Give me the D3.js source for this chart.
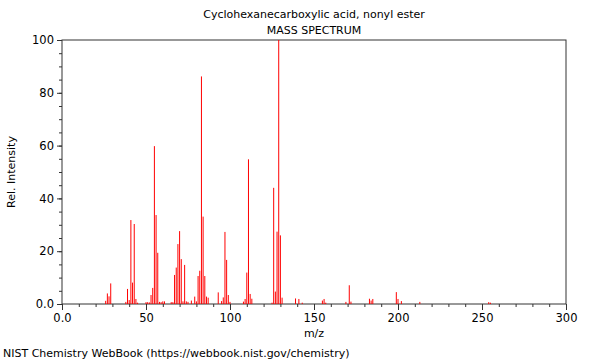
<!DOCTYPE html>
<html>
<head>
<meta charset="utf-8">
<script src="https://cdn.jsdelivr.net/npm/d3@7"></script>
<style>
  body { margin: 0; background: #fff; }
  svg text { font-family: "DejaVu Sans", sans-serif; fill: #000; }
</style>
</head>
<body>
<script>
// m/z and relative intensity
const mz = [26, 27, 28, 29, 38, 39, 40, 41, 42, 43, 44, 45, 50, 51, 52,
  53, 54, 55, 56, 57, 58, 59, 60, 61, 65, 66, 67, 68, 69, 70, 71, 72, 73, 74, 75,
  77, 79, 80, 81, 82, 83, 84, 85, 86, 87, 93, 95, 96, 97, 98, 99, 100,
  108, 109, 110, 111, 112, 113, 125, 126, 127, 128, 129, 130, 131,
  139, 141, 143, 155, 156, 157, 169, 171, 172, 183, 184, 185,
  199, 200, 202, 213, 254, 255];
const intensity = [1.2, 4.0, 2.9, 7.8, 0.8, 5.7, 1.5, 31.8, 8.1, 30.3, 1.9, 0.5, 0.7, 0.7, 0.6,
  3.4, 6.1, 59.8, 33.7, 19.4, 0.8, 0.7, 1.0, 1.0, 0.7, 0.7, 11.0, 13.8, 22.7, 27.6, 17.0, 1.0, 14.8, 1.0, 0.8,
  1.3, 2.8, 1.0, 10.6, 12.6, 86.2, 33.1, 10.6, 2.8, 2.4, 4.4, 1.1, 2.5, 27.3, 16.7, 3.4, 0.8,
  0.9, 1.9, 11.9, 54.8, 3.8, 2.0, 0.5, 44.0, 4.7, 27.4, 100, 26.0, 2.4,
  2.1, 1.9, 0.5, 1.3, 1.9, 0.5, 0.8, 7.1, 0.9, 2.0, 1.3, 1.9,
  4.5, 1.9, 1.1, 0.8, 0.7, 0.5];

const xTicks = [0, 50, 100, 150, 200, 250, 300];
const yTicks = [0, 20, 40, 60, 80, 100];

const title = "Cyclohexanecarboxylic acid, nonyl ester";
const subtitle = "MASS SPECTRUM";
const credit = "NIST Chemistry WebBook (https://webbook.nist.gov/chemistry)";

const W = 600, H = 360;
const plot = { left: 62, right: 566, top: 40, bottom: 304 };

const svg = d3.select("body").append("svg")
    .attr("width", W)
    .attr("height", H);

const x = d3.scaleLinear().domain([0, 300]).range([plot.left, plot.right]);
const y = d3.scaleLinear().domain([0, 100]).range([plot.bottom, plot.top]);

const axisColor = "#333";
const fmt = d => d === 0 ? "0.0" : d;

// minor ticks
const xAxisMinor = d3.axisBottom(x).tickValues(d3.range(0, 301, 10))
    .tickSize(3).tickFormat("");
const yAxisMinor = d3.axisLeft(y).tickValues(d3.range(0, 101, 5))
    .tickSize(3).tickFormat("");

svg.append("g").attr("transform", `translate(0,${plot.bottom})`).call(xAxisMinor);
svg.append("g").attr("transform", `translate(${plot.left},0)`).call(yAxisMinor);

// major ticks
const xAxis = d3.axisBottom(x).tickValues(xTicks).tickSize(6).tickPadding(4).tickFormat(fmt);
const yAxis = d3.axisLeft(y).tickValues(yTicks).tickSize(5).tickPadding(3).tickFormat(fmt);

svg.append("g").attr("class", "xaxis")
    .attr("transform", `translate(0,${plot.bottom})`).call(xAxis);
svg.append("g").attr("class", "yaxis")
    .attr("transform", `translate(${plot.left},0)`).call(yAxis);

svg.selectAll(".domain").remove();
svg.selectAll(".tick line").attr("stroke", axisColor);
svg.selectAll(".tick text").attr("font-size", 11.5).attr("fill", "#000")
    .style("font-family", "DejaVu Sans, sans-serif");

// frame
svg.append("rect")
    .attr("x", plot.left)
    .attr("y", plot.top)
    .attr("width", plot.right - plot.left)
    .attr("height", plot.bottom - plot.top)
    .attr("fill", "none")
    .attr("stroke", axisColor)
    .attr("stroke-width", 1);

// spectrum lines
svg.append("g").selectAll("line")
  .data(mz.map((m, i) => ({ m, v: intensity[i] })))
  .enter()
  .append("line")
    .attr("x1", d => x(d.m))
    .attr("x2", d => x(d.m))
    .attr("y1", y(0))
    .attr("y2", d => y(d.v))
    .attr("stroke", "#ff0000")
    .attr("stroke-width", 1);

// texts
svg.append("text")
    .attr("x", 314).attr("y", 18)
    .attr("text-anchor", "middle")
    .attr("font-size", 11)
    .text(title);

svg.append("text")
    .attr("x", 314).attr("y", 34)
    .attr("text-anchor", "middle")
    .attr("font-size", 11)
    .text(subtitle);

svg.append("text")
    .attr("x", 314).attr("y", 337)
    .attr("text-anchor", "middle")
    .attr("font-size", 11)
    .text("m/z");

svg.append("text")
    .attr("transform", `translate(15,${(plot.top + plot.bottom) / 2}) rotate(-90)`)
    .attr("text-anchor", "middle")
    .attr("font-size", 11)
    .text("Rel. Intensity");

svg.append("text")
    .attr("x", 3).attr("y", 357)
    .attr("font-size", 11)
    .text(credit);
</script>
</body>
</html>
